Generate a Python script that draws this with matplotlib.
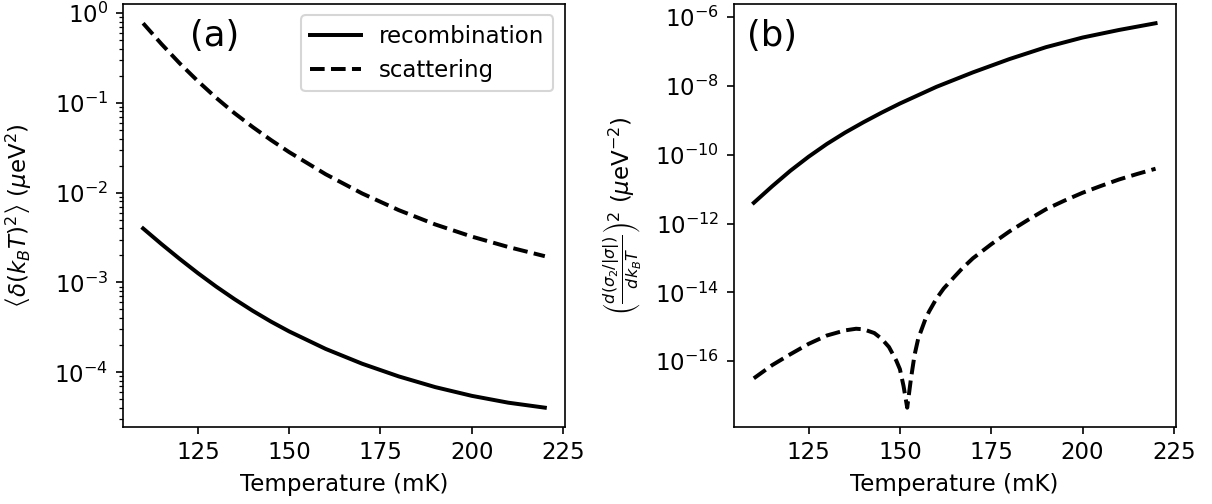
import matplotlib
matplotlib.use("Agg")
import matplotlib.pyplot as plt
import numpy as np

plt.rcParams["font.size"] = 11

# panel (a): temperature fluctuations
temp_a = [110, 115, 120, 125, 130, 135, 140, 145, 150, 160, 170, 180, 190, 200, 210, 220]
recomb_a = [3.99e-3, 2.68e-3, 1.83e-3, 1.27e-3, 9.0e-4, 6.53e-4, 4.84e-4, 3.67e-4,
            2.85e-4, 1.82e-4, 1.245e-4, 9.0e-5, 6.84e-5, 5.47e-5, 4.59e-5, 4.04e-5]
scatter_a = [0.767, 0.452, 0.275, 0.174, 0.1135, 0.0767, 0.0537, 0.0385,
             0.0282, 0.0160, 9.77e-3, 6.38e-3, 4.42e-3, 3.24e-3, 2.48e-3, 1.96e-3]

# panel (b): squared derivative
temp_b_rec = [110, 115, 120, 125, 130, 135, 140, 145, 150, 160, 170, 180, 190, 200, 210, 220]
recomb_b = [4.0e-12, 1.2e-11, 3.4e-11, 8.7e-11, 2.04e-10, 4.37e-10, 8.7e-10,
            1.66e-9, 3.05e-9, 9.3e-9, 2.45e-8, 5.96e-8, 1.32e-7, 2.51e-7,
            4.17e-7, 6.53e-7]
temp_b_sca = [110, 115, 120, 125, 130, 135, 138, 140, 143, 145, 147, 149, 150,
              151, 152, 153, 154, 155, 157, 158, 160, 162, 165, 167, 170, 175,
              180, 185, 190, 195, 200, 205, 210, 215, 220]
scatter_b = [3.2e-17, 7.7e-17, 1.6e-16, 3.2e-16, 5.6e-16, 7.9e-16, 8.8e-16,
             8.5e-16, 6.6e-16, 4.5e-16, 2.6e-16, 1.05e-16, 5.9e-17,
             1.9e-17, 4.5e-18, 3.0e-17, 1.5e-16, 4.5e-16, 1.7e-15, 2.8e-15,
             6.6e-15, 1.3e-14, 2.9e-14, 4.9e-14, 9.8e-14, 2.5e-13,
             5.9e-13, 1.26e-12, 2.6e-12, 4.6e-12, 7.8e-12, 1.23e-11, 1.9e-11,
             2.75e-11, 3.9e-11]

fig, (ax1, ax2) = plt.subplots(1, 2, figsize=(8.08, 3.36))
fig.subplots_adjust(left=0.1015, right=0.970, bottom=0.153, top=0.992, wspace=0.382)

ax1.plot(temp_a, recomb_a, "k-", lw=1.9, label="recombination")
ax1.plot(temp_a, scatter_a, "k--", lw=1.9, label="scattering")
ax1.set_yscale("log")
ax1.set_xlabel("Temperature (mK)")
ax1.set_ylabel(r"$\left\langle\delta(k_BT)^2\right\rangle$ ($\mu$eV$^2$)", labelpad=10)
ax1.legend(loc="upper right", handlelength=2.2)
ax1.text(0.208, 0.925, "(a)", transform=ax1.transAxes, fontsize=17,
         ha="center", va="center")

ax2.plot(temp_b_rec, recomb_b, "k-", lw=1.9)
ax2.plot(temp_b_sca, scatter_b, "k--", lw=1.9)
ax2.set_yscale("log")
ax2.set_xlabel("Temperature (mK)")
ax2.set_ylabel(r"$\left(\frac{d(\sigma_2/|\sigma|)}{dk_BT}\right)^2$ ($\mu$eV$^{-2}$)",
               labelpad=5.5)
ax2.text(0.0875, 0.925, "(b)", transform=ax2.transAxes, fontsize=17,
         ha="center", va="center")

for ax in (ax1, ax2):
    ax.set_xticks([125, 150, 175, 200, 225])

fig.savefig("out.png", dpi=150)
